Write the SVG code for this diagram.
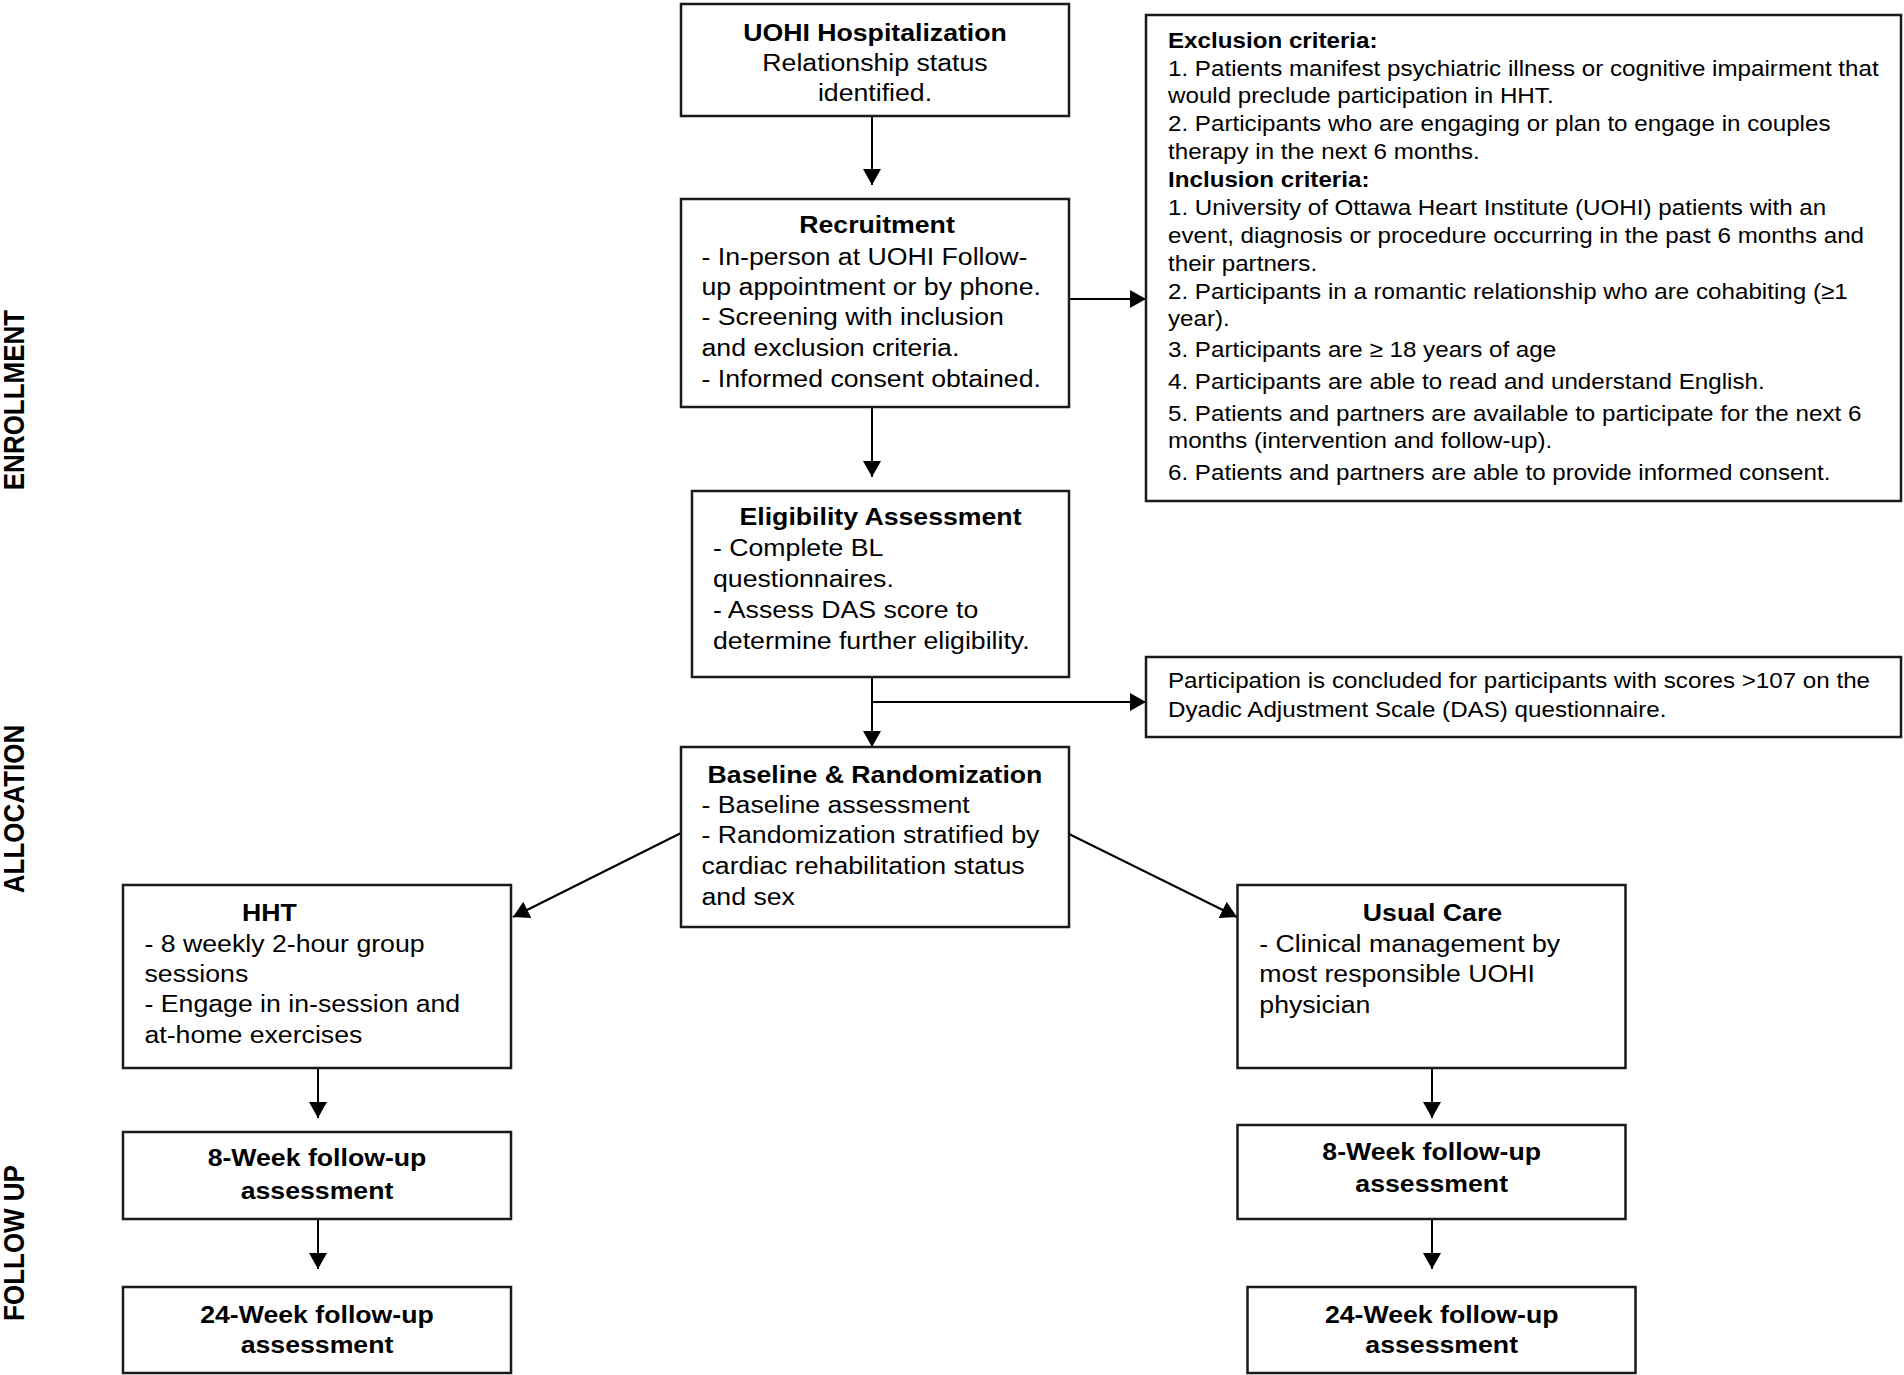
<svg xmlns="http://www.w3.org/2000/svg" width="1904" height="1375" viewBox="0 0 1904 1375">
<style>
.bg{fill:#ffffff}
.box{fill:#ffffff;stroke:#1a1a1a;stroke-width:2.5}
.t{font-family:"Liberation Sans",Arial,sans-serif;font-size:23px;fill:#000}
.r{font-family:"Liberation Sans",Arial,sans-serif;font-size:22.5px;fill:#000}
.b{font-weight:bold}
.m{text-anchor:middle}
.lab{font-family:"Liberation Sans",Arial,sans-serif;font-size:26px;font-weight:bold;fill:#000;text-anchor:middle}
.conn{stroke:#000;stroke-width:2;fill:none;marker-end:url(#ah)}
.line{stroke:#000;stroke-width:2;fill:none}
</style>
<defs>
<marker id="ah" markerUnits="userSpaceOnUse" markerWidth="16" markerHeight="18" viewBox="0 0 16 18" refX="16" refY="9" orient="auto">
<path d="M0,0 L16,9 L0,18 Z" fill="#000"/>
</marker>
</defs>
<rect class="bg" x="0" y="0" width="1904" height="1375"/>

<g id="stage-labels">
<text class="lab" transform="translate(24,400) scale(1.15,1) rotate(-90)">ENROLLMENT</text>
<text class="lab" transform="translate(24,809) scale(1.15,1) rotate(-90)">ALLOCATION</text>
<text class="lab" transform="translate(24,1243) scale(1.15,1) rotate(-90)">FOLLOW UP</text>
</g>

<g id="connectors">
<line class="conn" x1="872" y1="116" x2="872" y2="185"/>
<line class="conn" x1="872" y1="407" x2="872" y2="477"/>
<line class="conn" x1="1069" y1="299" x2="1146" y2="299"/>
<line class="conn" x1="872" y1="677" x2="872" y2="747"/>
<line class="conn" x1="872" y1="702" x2="1146" y2="702"/>
<line class="conn" x1="681" y1="833" x2="513" y2="917"/>
<line class="conn" x1="1069" y1="834" x2="1237" y2="917"/>
<line class="conn" x1="318" y1="1068" x2="318" y2="1118"/>
<line class="conn" x1="318" y1="1219" x2="318" y2="1269"/>
<line class="conn" x1="1432" y1="1068" x2="1432" y2="1118"/>
<line class="conn" x1="1432" y1="1219" x2="1432" y2="1269"/>
</g>

<g id="uohi-hospitalization">
<rect class="box" x="681" y="4" width="388" height="112"/>
<g transform="translate(875,0) scale(1.16,1)">
<text class="t b m" x="0" y="40.7">UOHI Hospitalization</text>
<text class="t m" x="0" y="71">Relationship status</text>
<text class="t m" x="0" y="101">identified.</text>
</g>
</g>

<g id="recruitment">
<rect class="box" x="681" y="199" width="388" height="208"/>
<g transform="translate(877,0) scale(1.16,1)">
<text class="t b m" x="0" y="233">Recruitment</text>
</g>
<g transform="translate(701.5,0) scale(1.16,1)">
<text class="t" x="0" y="265">- In-person at UOHI Follow-</text>
<text class="t" x="0" y="295.5">up appointment or by phone.</text>
<text class="t" x="0" y="325.5">- Screening with inclusion</text>
<text class="t" x="0" y="356">and exclusion criteria.</text>
<text class="t" x="0" y="387">- Informed consent obtained.</text>
</g>
</g>

<g id="criteria">
<rect class="box" x="1146" y="15" width="755" height="486"/>
<g transform="translate(1168,0) scale(1.075,1)">
<text class="r b" x="0" y="47.7">Exclusion criteria:</text>
<text class="r" x="0" y="76">1. Patients manifest psychiatric illness or cognitive impairment that</text>
<text class="r" x="0" y="103.5">would preclude participation in HHT.</text>
<text class="r" x="0" y="131.5">2. Participants who are engaging or plan to engage in couples</text>
<text class="r" x="0" y="159">therapy in the next 6 months.</text>
<text class="r b" x="0" y="186.7">Inclusion criteria:</text>
<text class="r" x="0" y="215">1. University of Ottawa Heart Institute (UOHI) patients with an</text>
<text class="r" x="0" y="242.7">event, diagnosis or procedure occurring in the past 6 months and</text>
<text class="r" x="0" y="270.7">their partners.</text>
<text class="r" x="0" y="299">2. Participants in a romantic relationship who are cohabiting (≥1</text>
<text class="r" x="0" y="326">year).</text>
<text class="r" x="0" y="357">3. Participants are ≥ 18 years of age</text>
<text class="r" x="0" y="389">4. Participants are able to read and understand English.</text>
<text class="r" x="0" y="420.7">5. Patients and partners are available to participate for the next 6</text>
<text class="r" x="0" y="448">months (intervention and follow-up).</text>
<text class="r" x="0" y="480">6. Patients and partners are able to provide informed consent.</text>
</g>
</g>

<g id="eligibility-assessment">
<rect class="box" x="692" y="491" width="377" height="186"/>
<g transform="translate(880.5,0) scale(1.16,1)">
<text class="t b m" x="0" y="525">Eligibility Assessment</text>
</g>
<g transform="translate(713,0) scale(1.16,1)">
<text class="t" x="0" y="556">- Complete BL</text>
<text class="t" x="0" y="587">questionnaires.</text>
<text class="t" x="0" y="618">- Assess DAS score to</text>
<text class="t" x="0" y="649">determine further eligibility.</text>
</g>
</g>

<g id="das-exclusion">
<rect class="box" x="1146" y="657" width="755" height="80"/>
<g transform="translate(1168,0) scale(1.075,1)">
<text class="r" x="0" y="688.3">Participation is concluded for participants with scores &gt;107 on the</text>
<text class="r" x="0" y="716.7">Dyadic Adjustment Scale (DAS) questionnaire.</text>
</g>
</g>

<g id="baseline-randomization">
<rect class="box" x="681" y="747" width="388" height="180"/>
<g transform="translate(875,0) scale(1.16,1)">
<text class="t b m" x="0" y="783">Baseline &amp; Randomization</text>
</g>
<g transform="translate(701.5,0) scale(1.16,1)">
<text class="t" x="0" y="813">- Baseline assessment</text>
<text class="t" x="0" y="843.5">- Randomization stratified by</text>
<text class="t" x="0" y="874">cardiac rehabilitation status</text>
<text class="t" x="0" y="905">and sex</text>
</g>
</g>

<g id="hht">
<rect class="box" x="123" y="885" width="388" height="183"/>
<g transform="translate(242,0) scale(1.16,1)">
<text class="t b" x="0" y="920.7">HHT</text>
</g>
<g transform="translate(144.5,0) scale(1.16,1)">
<text class="t" x="0" y="951.7">- 8 weekly 2-hour group</text>
<text class="t" x="0" y="981.7">sessions</text>
<text class="t" x="0" y="1012.3">- Engage in in-session and</text>
<text class="t" x="0" y="1042.7">at-home exercises</text>
</g>
</g>

<g id="usual-care">
<rect class="box" x="1237.5" y="885" width="388" height="183"/>
<g transform="translate(1432.5,0) scale(1.16,1)">
<text class="t b m" x="0" y="920.7">Usual Care</text>
</g>
<g transform="translate(1259.3,0) scale(1.16,1)">
<text class="t" x="0" y="951.7">- Clinical management by</text>
<text class="t" x="0" y="982.3">most responsible UOHI</text>
<text class="t" x="0" y="1013.3">physician</text>
</g>
</g>

<g id="hht-8week">
<rect class="box" x="123" y="1132" width="388" height="87"/>
<g transform="translate(317,0) scale(1.16,1)">
<text class="t b m" x="0" y="1166">8-Week follow-up</text>
<text class="t b m" x="0" y="1199">assessment</text>
</g>
</g>

<g id="hht-24week">
<rect class="box" x="123" y="1287" width="388" height="86"/>
<g transform="translate(317,0) scale(1.16,1)">
<text class="t b m" x="0" y="1323.3">24-Week follow-up</text>
<text class="t b m" x="0" y="1352.7">assessment</text>
</g>
</g>

<g id="uc-8week">
<rect class="box" x="1237.5" y="1125" width="388" height="94"/>
<g transform="translate(1431.7,0) scale(1.16,1)">
<text class="t b m" x="0" y="1160">8-Week follow-up</text>
<text class="t b m" x="0" y="1191.7">assessment</text>
</g>
</g>

<g id="uc-24week">
<rect class="box" x="1247.5" y="1287" width="388" height="86"/>
<g transform="translate(1441.7,0) scale(1.16,1)">
<text class="t b m" x="0" y="1323.3">24-Week follow-up</text>
<text class="t b m" x="0" y="1352.7">assessment</text>
</g>
</g>
</svg>
